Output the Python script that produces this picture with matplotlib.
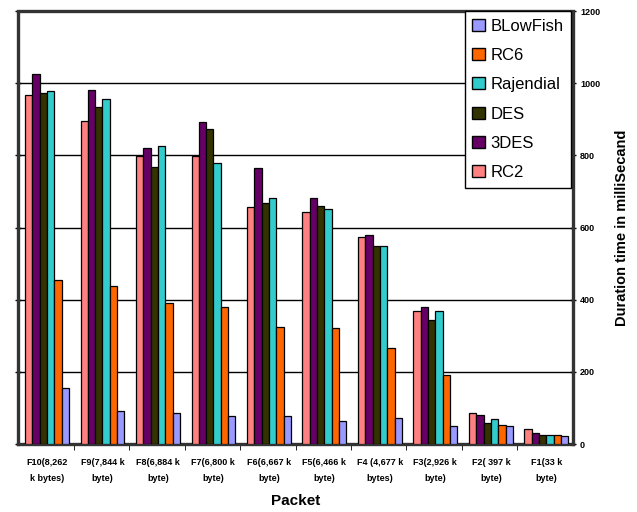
import numpy as np
import matplotlib
matplotlib.use("Agg")
import matplotlib.pyplot as plt
from matplotlib.patches import Patch

plt.rcParams['font.family'] = ['Liberation Sans', 'DejaVu Sans']

# data (duration time in milliseconds)
packets = ["F10(8,262\nk bytes)", "F9(7,844 k\nbyte)", "F8(6,884 k\nbyte)",
           "F7(6,800 k\nbyte)", "F6(6,667 k\nbyte)", "F5(6,466 k\nbyte)",
           "F4 (4,677 k\nbytes)", "F3(2,926 k\nbyte)", "F2( 397 k\nbyte)",
           "F1(33 k\nbyte)"]
rc2 = [967, 896, 798, 798, 656, 644, 573, 368, 85, 41]
des3 = [1025, 982, 819, 893, 765, 682, 578, 379, 81, 30]
des = [973, 934, 768, 873, 668, 659, 550, 345, 58, 26]
rajendial = [979, 956, 826, 779, 683, 651, 550, 368, 69, 26]
rc6 = [454, 438, 392, 379, 325, 321, 267, 190, 53, 26]
blowfish = [155, 92, 85, 78, 78, 65, 73, 50, 49, 21]

series = [("RC2", rc2, "#FF8080"),
          ("3DES", des3, "#660066"),
          ("DES", des, "#333300"),
          ("Rajendial", rajendial, "#33CCCC"),
          ("RC6", rc6, "#FF6600"),
          ("BLowFish", blowfish, "#9999FF")]

fig = plt.figure(figsize=(6.37, 5.12), dpi=100)
ax = fig.add_axes([0.0283, 0.1328, 0.8712, 0.8457])

x = np.arange(len(packets))
w = 0.132
start = 0.126
for k, (name, vals, col) in enumerate(series):
    ax.bar(x + start + w * (k + 0.5), vals, width=w, color=col,
           edgecolor="black", linewidth=0.9, zorder=3)

ax.set_xlim(0, len(packets))
ax.set_ylim(0, 1200)

# gridlines
for g in range(200, 1200, 200):
    ax.axhline(g, color="black", linewidth=1.0, zorder=1)

# dotted frame
for s in ax.spines.values():
    s.set_linestyle((0, (1, 1)))
    s.set_linewidth(2.4)
    s.set_color("#333333")

ax.set_yticks(range(0, 1201, 200))
ax.yaxis.tick_right()
ax.tick_params(axis="y", left=True, right=True, labelleft=False,
               labelright=True, direction="inout", length=4, width=1,
               labelsize=6.5, pad=3)
for lab in ax.get_yticklabels():
    lab.set_fontweight("bold")
ax.yaxis.set_label_position("right")
ax.set_ylabel("Duration time in milliSecand", fontsize=10.5,
              fontweight="bold", labelpad=11)

ax.set_xticks(x + 0.52)
ax.set_xticklabels(packets, fontsize=6.5, fontweight="bold", linespacing=2.0)
ax.set_xticks(np.arange(1, len(packets)), minor=True)
ax.tick_params(axis="x", which="major", length=0, pad=10)
ax.tick_params(axis="x", which="minor", length=4, direction="out")
ax.set_xlabel("Packet", fontsize=11, fontweight="bold", labelpad=8)

handles = [Patch(facecolor=col, edgecolor="black", label=name)
           for name, vals, col in series][::-1]
leg = ax.legend(handles=handles, loc="upper right",
                bbox_to_anchor=(0.997, 1.0), fontsize=12, frameon=True,
                fancybox=False, edgecolor="black", framealpha=1,
                handlelength=0.75, handleheight=0.75, handletextpad=0.35,
                labelspacing=0.86, borderpad=0.45, borderaxespad=0.0)
leg.get_frame().set_linewidth(1.0)
leg.set_zorder(5)

plt.savefig("out.png", dpi=100)
